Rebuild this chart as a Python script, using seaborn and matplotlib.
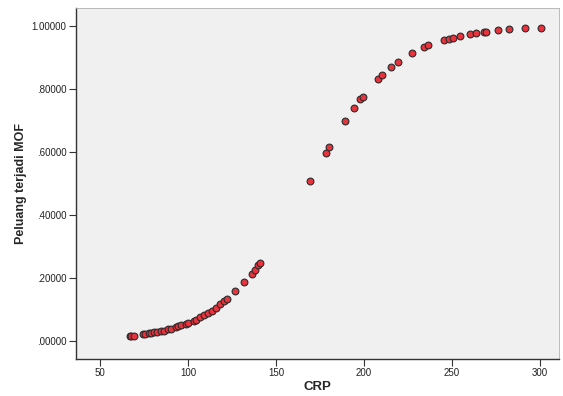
import matplotlib
matplotlib.use("Agg")
import matplotlib.pyplot as plt
import seaborn as sns
import pandas as pd

crp = [66.8, 67.9, 69.6, 74.4, 75.6, 77.6, 79.0, 80.7, 82.4, 84.4, 86.4,
       88.9, 90.1, 93.2, 94.3, 96.3, 98.6, 100.3, 103.4, 104.5, 107.1,
       109.1, 111.1, 113.4, 115.7, 118.2, 120.6, 122.0, 126.9, 132.0,
       136.2, 138.1, 139.9, 141.1,
       169.1, 178.2, 180.1, 189.2, 194.1, 197.9, 199.3,
       208.0, 210.2, 215.2, 219.3, 227.3, 233.8, 236.4, 245.5, 248.3,
       250.3, 254.3, 260.2, 263.4, 268.2, 269.5, 276.3, 282.3, 291.5, 300.3]
peluang = [0.0168, 0.0174, 0.0184, 0.0222, 0.0231, 0.0253, 0.0263, 0.0285,
           0.0295, 0.0326, 0.0342, 0.0380, 0.0400, 0.0453, 0.0475, 0.0516,
           0.0563, 0.0596, 0.0659, 0.0691, 0.0776, 0.0833, 0.0896, 0.0976,
           0.107, 0.117, 0.127, 0.134, 0.158, 0.187, 0.214, 0.227, 0.241,
           0.249,
           0.508, 0.597, 0.616, 0.698, 0.739, 0.768, 0.775,
           0.831, 0.843, 0.868, 0.885, 0.913, 0.932, 0.938, 0.954, 0.959,
           0.962, 0.968, 0.974, 0.976, 0.980, 0.981, 0.985, 0.988, 0.991, 0.993]

x_ticks = [50, 100, 150, 200, 250, 300]
y_ticks = [0.0, 0.2, 0.4, 0.6, 0.8, 1.0]
y_tick_labels = [".00000", ".20000", ".40000", ".60000", ".80000", "1.00000"]

df = pd.DataFrame({"CRP": crp, "Peluang terjadi MOF": peluang})

sns.set_style("ticks")
plt.rcParams["font.family"] = ["Liberation Sans", "DejaVu Sans"]

fig = plt.figure(figsize=(5.63, 3.96), dpi=100)
ax = fig.add_axes([0.135, 0.0934, 0.858, 0.8866])
ax.set_facecolor("#F0F0F0")

sns.scatterplot(data=df, x="CRP", y="Peluang terjadi MOF", ax=ax,
                color="#E8323C", edgecolor="#2B2B2B", linewidth=0.8,
                s=24, zorder=3)

ax.set_xlim(36.4, 310.8)
ax.set_ylim(-0.056, 1.056)
ax.set_xticks(x_ticks)
ax.set_yticks(y_ticks)
ax.set_yticklabels(y_tick_labels)
ax.tick_params(axis="both", direction="out", length=5, width=0.8,
               colors="#333333", labelsize=7, labelcolor="#222222")
ax.tick_params(axis="x", pad=1.5)
ax.tick_params(axis="y", pad=2)

for side in ["left", "bottom"]:
    ax.spines[side].set_color("#333333")
    ax.spines[side].set_linewidth(1.0)
for side in ["top", "right"]:
    ax.spines[side].set_color("#B0B0B0")
    ax.spines[side].set_linewidth(0.6)

ax.set_xlabel("CRP", fontsize=9.5, fontweight="bold", labelpad=2)
ax.set_ylabel("Peluang terjadi MOF", fontsize=9, fontweight="bold", labelpad=3)

fig.savefig("out.png", dpi=100, facecolor="white")
